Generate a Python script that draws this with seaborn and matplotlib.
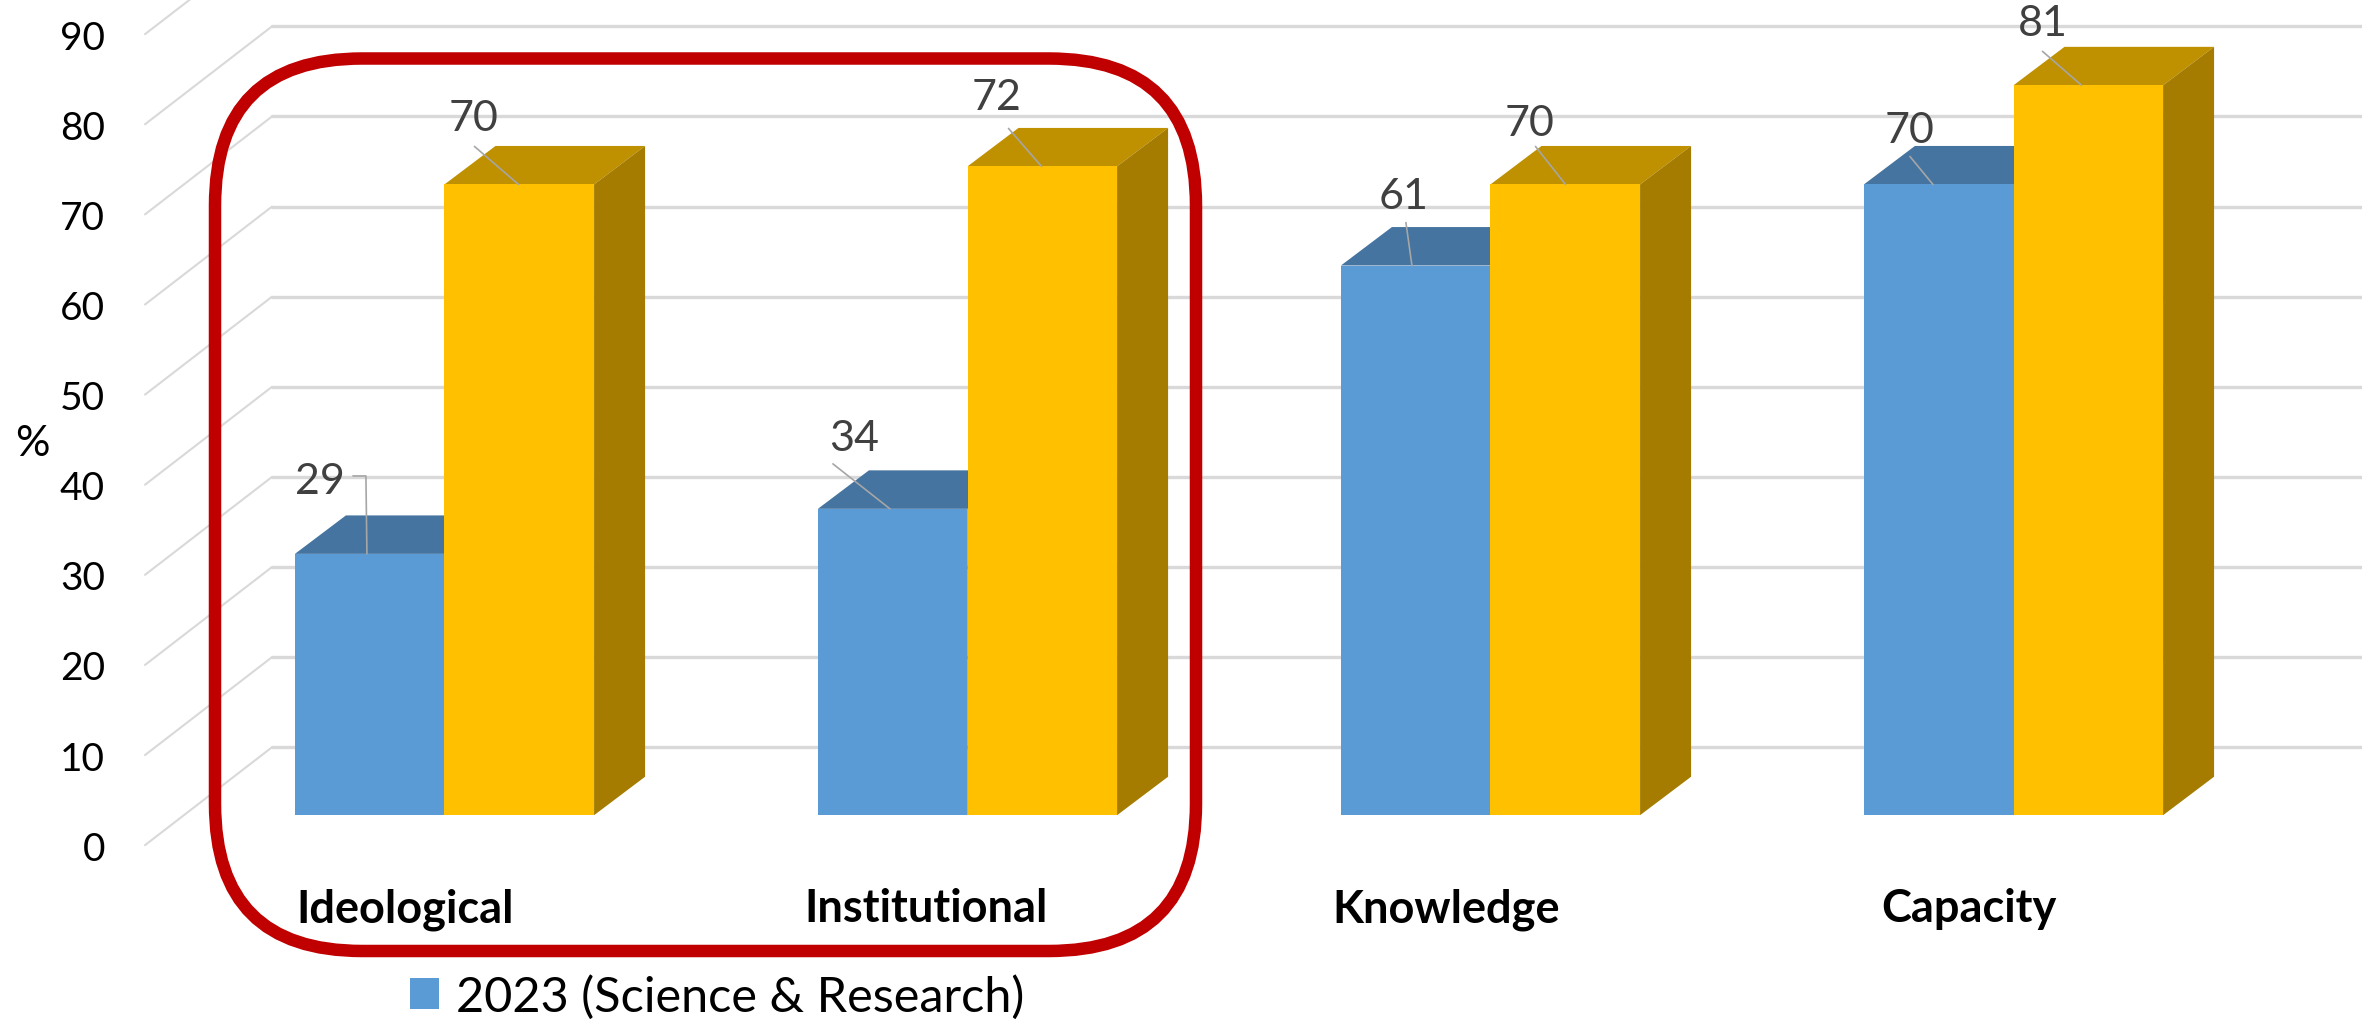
import matplotlib
matplotlib.use("Agg")
import matplotlib.pyplot as plt
import pandas as pd
import seaborn as sns
from matplotlib.patches import FancyBboxPatch, Polygon
from matplotlib.transforms import Affine2D

# ---- data ----
categories = ["Ideological", "Institutional", "Knowledge", "Capacity"]
series_names = ["2023 (Science & Research)", "Comparison"]
science_values = [29, 34, 61, 70]
comparison_values = [70, 72, 70, 81]
axis_ticks = [0, 10, 20, 30, 40, 50, 60, 70, 80, 90]

# ---- styles ----
W, H = 2362, 1020
PX_PER_CAT = 523.0
PX_PER_VAL = 9.02
FRONT_COLORS = ["#5B9BD5", "#FFC000"]
TOP_COLORS = ["#44749F", "#BF9000"]
SIDE_COLORS = ["#3A6A98", "#A57C00"]
GRID = "#D9D9D9"
FONT = "Lato"
DEPTH_X = 51 / PX_PER_CAT
DEPTH_Y = 38.5 / PX_PER_VAL

sns.set_theme(style="white")
plt.rcParams["font.family"] = [FONT, "DejaVu Sans"]

fig = plt.figure(figsize=(W / 100, H / 100), dpi=100, facecolor="white")
ax = fig.add_axes([0, 0, 1, 1])

df = pd.DataFrame({
    "category": categories * 2,
    "series": [series_names[0]] * 4 + [series_names[1]] * 4,
    "value": science_values + comparison_values,
})
sns.barplot(data=df, x="category", y="value", hue="series", order=categories,
            hue_order=series_names, palette=FRONT_COLORS, saturation=1,
            width=0.572, gap=0, linewidth=0, ax=ax, zorder=4)

ax.set_xlim(-444.5 / PX_PER_CAT, (W - 444.5) / PX_PER_CAT)
ax.set_ylim((816 - H) / PX_PER_VAL, 817 / PX_PER_VAL)
ax.set_axis_off()

# pseudo-3D wall: diagonal floor ticks and back-wall gridlines
wall_left = -444.5 / PX_PER_CAT + 145 / PX_PER_CAT
wall_back = -444.5 / PX_PER_CAT + 272 / PX_PER_CAT
wall_right = (W - 444.5) / PX_PER_CAT
front_shift = -30 / PX_PER_VAL
back_shift = 68 / PX_PER_VAL
for v in axis_ticks:
    ax.plot([wall_left, wall_back], [v + front_shift, v + back_shift],
            color=GRID, lw=1.5, zorder=1, solid_capstyle="round")
    ax.plot([wall_back, wall_right], [v + back_shift, v + back_shift],
            color=GRID, lw=2.4, zorder=1)
    ax.text(wall_left - 40 / PX_PER_CAT, v + front_shift, str(v), ha="right",
            va="center_baseline", fontsize=28, color="black")

# bar tops and sides, derived from the drawn bars
for s, container in enumerate(ax.containers):
    for bar in container:
        x0, w, h = bar.get_x(), bar.get_width(), bar.get_height()
        x1 = x0 + w
        ax.add_patch(Polygon([(x0, h), (x1, h), (x1 + DEPTH_X, h + DEPTH_Y), (x0 + DEPTH_X, h + DEPTH_Y)],
                             closed=True, fc=TOP_COLORS[s], ec="none", zorder=3))
        ax.add_patch(Polygon([(x1, 0), (x1 + DEPTH_X, DEPTH_Y), (x1 + DEPTH_X, h + DEPTH_Y), (x1, h)],
                             closed=True, fc=SIDE_COLORS[s], ec="none", zorder=3))

# data labels with leader lines (offsets in pixels from each bar's front-top left corner)
leaders = [
    [[(72, 0), (71, 78), (58, 78)], [(72, 0), (15, 45)], [(71, 0), (65, 43)], [(69, 0), (46, 28)]],
    [[(74, 0), (30, 38)], [(74, 0), (41, 38)], [(75, 0), (45, 38)], [(68, 0), (29, 34)]],
]
label_offsets = [
    [(25, 76), (36, 74), (63, 73), (46, 58)],
    [(29, 70), (29, 73), (39, 65), (29, 66)],
]
for s, container in enumerate(ax.containers):
    for b, bar in enumerate(container):
        x0, h = bar.get_x(), bar.get_height()
        xs = [x0 + dx / PX_PER_CAT for dx, _ in leaders[s][b]]
        ys = [h + dy / PX_PER_VAL for _, dy in leaders[s][b]]
        ax.plot(xs, ys, color="#A6A6A6", lw=1.2, zorder=5)
        ox, oy = label_offsets[s][b]
        ax.text(x0 + ox / PX_PER_CAT, h + oy / PX_PER_VAL, f"{h:.0f}", ha="center",
                va="center_baseline", fontsize=31, color="#404040", zorder=6)

# category labels
for i, (name, shift) in enumerate(zip(categories, [-39, -41, -44, -45])):
    ax.text(i + shift / PX_PER_CAT, (816 - 905) / PX_PER_VAL, name, ha="center",
            va="center_baseline", fontsize=32.5, fontweight="bold", color="black")

# axis unit
ax.text(-412 / PX_PER_CAT, (816 - 440) / PX_PER_VAL, "%", ha="center",
        va="center_baseline", fontsize=31, color="black")

# red highlight frame, in image pixels
px = Affine2D().scale(1 / W, -1 / H).translate(0, 1) + fig.transFigure
ax.add_patch(FancyBboxPatch((215, 59.5), 1196 - 215, 952 - 59.5,
                            boxstyle="round,pad=0,rounding_size=147", transform=px,
                            fc="none", ec="#C00000", lw=9, zorder=7, clip_on=False))

# legend: only the first entry is visible in the reference
handles, labels = ax.get_legend_handles_labels()
ax.legend(handles[:1], labels[:1], loc="center left",
          bbox_to_anchor=(410 / W, 1 - 997 / H), frameon=False, fontsize=35,
          handlelength=0.6, handleheight=0.6, handletextpad=0.35,
          borderpad=0, borderaxespad=0, labelcolor="black")

fig.savefig("out.png", dpi=100, facecolor="white")
